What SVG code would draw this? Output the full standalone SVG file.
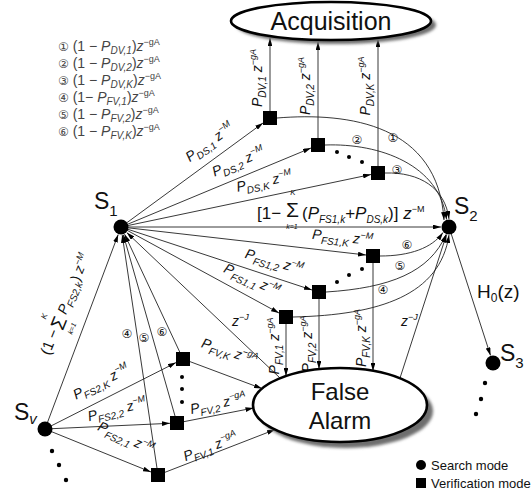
<svg xmlns="http://www.w3.org/2000/svg" width="531" height="494" viewBox="0 0 531 494">
<style>
text{font-family:'Liberation Sans',Arial,sans-serif;fill:#111}
.lb{font-size:14px;font-style:italic}
.sb{font-size:10px}
.sp{font-size:9px}
.it{font-style:italic}
.cn{font-family:'DejaVu Sans',sans-serif;font-size:12px;font-style:normal}
.ln{fill:none;stroke:#222;stroke-width:0.9}
.ar{marker-end:url(#ah)}
.sq{fill:#000}
.nd{fill:#000}
.el{fill:#fff;stroke:#000;stroke-width:2.6}
.sh{fill:#6e6e6e;filter:url(#bl)}
.lg{font-size:14px;fill:#444}
.big{font-size:23px}
</style>
<defs>
<marker id="ah" viewBox="0 0 10 6" refX="10" refY="3" markerWidth="8" markerHeight="4.8" markerUnits="userSpaceOnUse" orient="auto"><path d="M0,0L10,3L0,6z" fill="#000"/></marker>
<filter id="bl" x="-20%" y="-20%" width="140%" height="140%"><feGaussianBlur stdDeviation="1.6"/></filter>
</defs>

<!-- top-left legend -->
<g id="legend-top">
<text class="lg" x="58" y="51"><tspan class="cn">①</tspan> (1 − <tspan class="it">P</tspan><tspan class="sb it" dy="3">DV,1</tspan><tspan dy="-3">)</tspan><tspan class="it">z</tspan><tspan class="sp" dy="-6">−gA</tspan></text>
<text class="lg" x="58" y="68"><tspan class="cn">②</tspan> (1 − <tspan class="it">P</tspan><tspan class="sb it" dy="3">DV,2</tspan><tspan dy="-3">)</tspan><tspan class="it">z</tspan><tspan class="sp" dy="-6">−gA</tspan></text>
<text class="lg" x="58" y="85"><tspan class="cn">③</tspan> (1 − <tspan class="it">P</tspan><tspan class="sb it" dy="3">DV,K</tspan><tspan dy="-3">)</tspan><tspan class="it">z</tspan><tspan class="sp" dy="-6">−gA</tspan></text>
<text class="lg" x="58" y="102"><tspan class="cn">④</tspan> (1− <tspan class="it">P</tspan><tspan class="sb it" dy="3">FV,1</tspan><tspan dy="-3">)</tspan><tspan class="it">z</tspan><tspan class="sp" dy="-6">−gA</tspan></text>
<text class="lg" x="58" y="119"><tspan class="cn">⑤</tspan> (1 − <tspan class="it">P</tspan><tspan class="sb it" dy="3">FV,2</tspan><tspan dy="-3">)</tspan><tspan class="it">z</tspan><tspan class="sp" dy="-6">−gA</tspan></text>
<text class="lg" x="58" y="136"><tspan class="cn">⑥</tspan> (1 − <tspan class="it">P</tspan><tspan class="sb it" dy="3">FV,K</tspan><tspan dy="-3">)</tspan><tspan class="it">z</tspan><tspan class="sp" dy="-6">−gA</tspan></text>
</g>

<!-- connectors -->
<g id="connectors">
<line class="ln ar" x1="121" y1="227" x2="263" y2="123"/>
<line class="ln ar" x1="121" y1="227" x2="311" y2="148"/>
<line class="ln ar" x1="121" y1="227" x2="371" y2="174.5"/>
<line class="ln ar" x1="121" y1="227" x2="441" y2="227"/>
<line class="ln ar" x1="121" y1="227" x2="366" y2="255"/>
<line class="ln ar" x1="121" y1="227" x2="312" y2="290"/>
<line class="ln ar" x1="121" y1="227" x2="279" y2="313"/>
<line class="ln ar" x1="270" y1="118" x2="270" y2="38"/>
<line class="ln ar" x1="318" y1="145" x2="318" y2="42"/>
<line class="ln ar" x1="378" y1="173" x2="378" y2="39"/>
<path class="ln ar" d="M277,118 C350,112 438,125 444,220"/>
<path class="ln ar" d="M325,145 C380,143 440,165 446.5,219.5"/>
<path class="ln ar" d="M385,173 C420,172 445,188 449,219"/>
<path class="ln ar" d="M380,256 C410,256 432,248 443,232.5"/>
<path class="ln ar" d="M326,292 C390,288 430,272 446,234.5"/>
<path class="ln ar" d="M293,317 C380,315 440,295 449,235"/>
<line class="ln ar" x1="286" y1="317" x2="286" y2="376"/>
<line class="ln ar" x1="319" y1="292" x2="319" y2="369"/>
<line class="ln ar" x1="373" y1="256" x2="373" y2="371"/>
<line class="ln ar" x1="280" y1="378" x2="126.8" y2="232.6"/>
<line class="ln ar" x1="400" y1="378" x2="446.5" y2="234.6"/>
<line class="ln ar" x1="449" y1="227" x2="490.5" y2="355.4"/>
<line class="ln ar" x1="45" y1="429" x2="118.2" y2="234.5"/>
<line class="ln ar" x1="45" y1="429" x2="176" y2="362.6"/>
<line class="ln ar" x1="45" y1="429" x2="170" y2="423.3"/>
<line class="ln ar" x1="45" y1="429" x2="151" y2="472"/>
<line class="ln ar" x1="158" y1="475" x2="122.2" y2="234.9"/>
<line class="ln ar" x1="177" y1="423" x2="123.3" y2="234.7"/>
<line class="ln ar" x1="183" y1="359" x2="124.6" y2="234.2"/>
<line class="ln ar" x1="183" y1="359" x2="262" y2="388.6"/>
<line class="ln ar" x1="177" y1="423" x2="253.5" y2="408"/>
<line class="ln ar" x1="158" y1="475" x2="275" y2="429.6"/>

<text class="lb" text-anchor="middle" transform="translate(212,146) rotate(-36)">P<tspan class="sb" dy="4">DS,1</tspan><tspan dy="-4"> z</tspan><tspan class="sp" dy="-6">−M</tspan></text>
<text class="lb" text-anchor="middle" transform="translate(240,166) rotate(-23)">P<tspan class="sb" dy="4">DS,2</tspan><tspan dy="-4"> z</tspan><tspan class="sp" dy="-6">−M</tspan></text>
<text class="lb" text-anchor="middle" transform="translate(265,186) rotate(-12)">P<tspan class="sb" dy="4">DS,K</tspan><tspan dy="-4"> z</tspan><tspan class="sp" dy="-6">−M</tspan></text>

<text x="257" y="219" font-size="17">[1−</text>
<text x="286" y="217" font-size="21">Σ</text>
<text x="293" y="195" font-size="8" class="it" text-anchor="middle">K</text>
<text x="292" y="229" font-size="7" class="it" text-anchor="middle">k=1</text>
<text x="302" y="219" font-size="17">(<tspan class="it">P</tspan><tspan class="sb it" dy="4">FS1,k</tspan><tspan dy="-4">+</tspan><tspan class="it">P</tspan><tspan class="sb it" dy="4">DS,k</tspan><tspan dy="-4">)] </tspan><tspan class="it">z</tspan><tspan class="sp" dy="-7">−M</tspan></text>

<text class="lb" text-anchor="middle" transform="translate(342,242) rotate(6)">P<tspan class="sb" dy="4">FS1,K</tspan><tspan dy="-4"> z</tspan><tspan class="sp" dy="-6">−M</tspan></text>
<text class="lb" text-anchor="middle" transform="translate(273,266) rotate(16)">P<tspan class="sb" dy="4">FS1,2</tspan><tspan dy="-4"> z</tspan><tspan class="sp" dy="-6">−M</tspan></text>
<text class="lb" text-anchor="middle" transform="translate(250,284) rotate(24)">P<tspan class="sb" dy="4">FS1,1</tspan><tspan dy="-4"> z</tspan><tspan class="sp" dy="-6">−M</tspan></text>

<text class="lb" text-anchor="middle" transform="translate(262,78) rotate(-90)">P<tspan class="sb" dy="4">DV,1</tspan><tspan dy="-4"> z</tspan><tspan class="sp" dy="-6">−gA</tspan></text>
<text class="lb" text-anchor="middle" transform="translate(310,86) rotate(-90)">P<tspan class="sb" dy="4">DV,2</tspan><tspan dy="-4"> z</tspan><tspan class="sp" dy="-6">−gA</tspan></text>
<text class="lb" text-anchor="middle" transform="translate(370,86) rotate(-90)">P<tspan class="sb" dy="4">DV,K</tspan><tspan dy="-4"> z</tspan><tspan class="sp" dy="-6">−gA</tspan></text>

<text class="lb" text-anchor="middle" transform="translate(279,346) rotate(-90)">P<tspan class="sb" dy="4">FV,1</tspan><tspan dy="-4"> z</tspan><tspan class="sp" dy="-6">−gA</tspan></text>
<text class="lb" text-anchor="middle" transform="translate(312,344) rotate(-90)">P<tspan class="sb" dy="4">FV,2</tspan><tspan dy="-4"> z</tspan><tspan class="sp" dy="-6">−gA</tspan></text>
<text class="lb" text-anchor="middle" transform="translate(366,338) rotate(-90)">P<tspan class="sb" dy="4">FV,K</tspan><tspan dy="-4"> z</tspan><tspan class="sp" dy="-6">−gA</tspan></text>

<text class="lb" x="232" y="326">z<tspan class="sp" dy="-6">−J</tspan></text>
<text class="lb" x="401" y="326">z<tspan class="sp" dy="-6">−J</tspan></text>

<text x="477" y="298" font-size="19">H<tspan font-size="12" dy="4">0</tspan><tspan dy="-4">(z)</tspan></text>

<g transform="translate(70,305) rotate(-68)">
<text x="-55" y="0" font-size="15">(1 −</text>
<text x="-27" y="3" font-size="20">Σ</text>
<text x="-20" y="-17" font-size="8" class="it" text-anchor="middle">K</text>
<text x="-21" y="13" font-size="7" class="it" text-anchor="middle">k=1</text>
<text x="-11" y="0" class="lb" font-size="15">P<tspan class="sb" dy="4">FS2,k</tspan><tspan dy="-4" font-style="normal">)</tspan> z<tspan class="sp" dy="-6">−M</tspan></text>
</g>

<text class="lb" text-anchor="middle" transform="translate(103,386) rotate(-27)">P<tspan class="sb" dy="4">FS2,K</tspan><tspan dy="-4"> z</tspan><tspan class="sp" dy="-6">−M</tspan></text>
<text class="lb" text-anchor="middle" transform="translate(118,414) rotate(-14)">P<tspan class="sb" dy="4">FS2,2</tspan><tspan dy="-4"> z</tspan><tspan class="sp" dy="-6">−M</tspan></text>
<text class="lb" text-anchor="middle" transform="translate(124,442) rotate(24)">P<tspan class="sb" dy="4">FS2,1</tspan><tspan dy="-4"> z</tspan><tspan class="sp" dy="-6">−M</tspan></text>

<text class="lb" text-anchor="middle" transform="translate(228,356) rotate(18)">P<tspan class="sb" dy="4">FV,K</tspan><tspan dy="-4"> z</tspan><tspan class="sp" dy="-6">−gA</tspan></text>
<text class="lb" text-anchor="middle" transform="translate(219,408) rotate(-12)">P<tspan class="sb" dy="4">FV,2</tspan><tspan dy="-4"> z</tspan><tspan class="sp" dy="-6">−gA</tspan></text>
<text class="lb" text-anchor="middle" transform="translate(212,451) rotate(-21)">P<tspan class="sb" dy="4">FV,1</tspan><tspan dy="-4"> z</tspan><tspan class="sp" dy="-6">−gA</tspan></text>

<text class="cn" x="393" y="142" text-anchor="middle">①</text>
<text class="cn" x="357" y="144" text-anchor="middle">②</text>
<text class="cn" x="397" y="174" text-anchor="middle">③</text>
<text class="cn" x="383" y="294" text-anchor="middle">④</text>
<text class="cn" x="400" y="270" text-anchor="middle">⑤</text>
<text class="cn" x="407" y="249" text-anchor="middle">⑥</text>
<text class="cn" x="127" y="338" text-anchor="middle">④</text>
<text class="cn" x="144" y="342" text-anchor="middle">⑤</text>
<text class="cn" x="162" y="336" text-anchor="middle">⑥</text>
</g>

<!-- nodes -->
<g id="acquisition">
<ellipse class="sh" cx="336" cy="25" rx="100" ry="19"/>
<ellipse class="el" cx="331" cy="21" rx="100" ry="19"/>
<text x="331" y="30" font-size="25" text-anchor="middle">Acquisition</text>
</g>
<g id="false-alarm">
<ellipse class="sh" cx="346" cy="411" rx="87" ry="37"/>
<ellipse class="el" cx="340" cy="405" rx="87" ry="37"/>
<text x="340" y="400" font-size="24" text-anchor="middle">False</text>
<text x="340" y="429" font-size="24" text-anchor="middle">Alarm</text>
</g>
<g id="S1"><circle class="nd" cx="121" cy="227" r="7.5"/><text x="94" y="209" class="big">S<tspan font-size="15" dy="7">1</tspan></text></g>
<g id="S2"><circle class="nd" cx="449" cy="227" r="7.5"/><text x="454" y="214" class="big">S<tspan font-size="15" dy="7">2</tspan></text></g>
<g id="S3"><circle class="nd" cx="493" cy="363" r="7.5"/><text x="500" y="361" class="big">S<tspan font-size="15" dy="7">3</tspan></text></g>
<g id="Sv"><circle class="nd" cx="45" cy="429" r="7.5"/><text x="14" y="420" class="big">S<tspan font-size="15" dy="4" class="it">v</tspan></text></g>

<g id="DS1"><rect class="sq" x="263" y="111" width="14" height="14"/></g>
<g id="DS2"><rect class="sq" x="311" y="138" width="14" height="14"/></g>
<g id="DSK"><rect class="sq" x="371" y="166" width="14" height="14"/></g>
<g id="FS1-1"><rect class="sq" x="279" y="310" width="14" height="14"/></g>
<g id="FS1-2"><rect class="sq" x="312" y="285" width="14" height="14"/></g>
<g id="FS1-K"><rect class="sq" x="366" y="249" width="14" height="14"/></g>
<g id="FS2-K"><rect class="sq" x="176" y="352" width="14" height="14"/></g>
<g id="FS2-2"><rect class="sq" x="170" y="416" width="14" height="14"/></g>
<g id="FS2-1"><rect class="sq" x="151" y="468" width="14" height="14"/></g>

<g id="dots">
<circle cx="337" cy="152" r="2"/><circle cx="349" cy="157" r="2"/><circle cx="362" cy="162" r="2"/>
<circle cx="337" cy="282" r="2"/><circle cx="349" cy="275" r="2"/><circle cx="362" cy="269" r="2"/>
<circle cx="182" cy="377" r="2"/><circle cx="182" cy="389" r="2"/><circle cx="182" cy="402" r="2"/>
<circle cx="52" cy="451" r="2.2"/><circle cx="59" cy="465" r="2.2"/><circle cx="66" cy="480" r="2.2"/>
<circle cx="485" cy="383" r="2.2"/><circle cx="481" cy="399" r="2.2"/><circle cx="476" cy="414" r="2.2"/>
</g>

<g id="legend-bottom">
<circle cx="421" cy="465" r="5"/>
<text x="431" y="470" font-size="13">Search mode</text>
<rect x="416" y="478" width="10" height="10"/>
<text x="431" y="488" font-size="13">Verification mode</text>
</g>
</svg>
